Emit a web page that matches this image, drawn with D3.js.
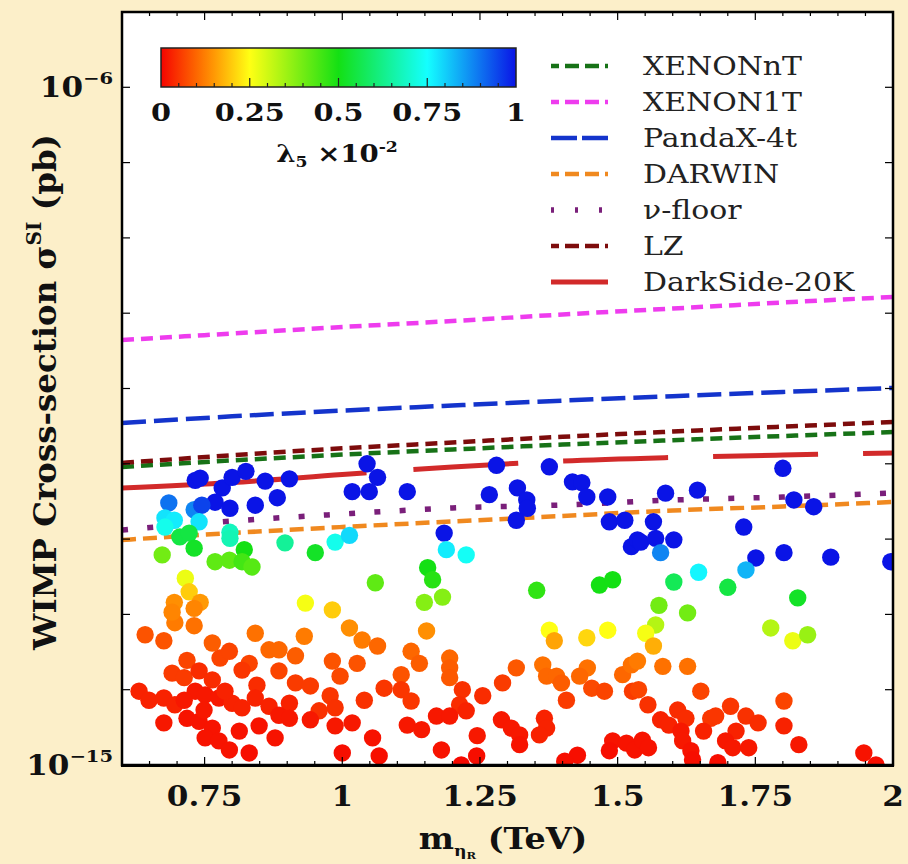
<!DOCTYPE html>
<html><head><meta charset="utf-8">
<script src="https://cdn.jsdelivr.net/npm/d3@7"></script>
<style>
html,body{margin:0;padding:0;background:#fcefc9;}
svg{display:block;}
</style></head><body>
<svg id="chart" width="908" height="864"></svg>
<script>
// ---------------- DATA ----------------
const massGrid = [0.6, 0.8, 1.0, 1.2, 1.4, 1.6, 1.8, 2.0];           // TeV
// log10 of sigma (pb) on massGrid
const xenonNT   = [-11.042,-10.955,-10.878,-10.810,-10.745,-10.686,-10.631,-10.578];
const xenon1T   = [-9.356,-9.270,-9.183,-9.104,-9.017,-8.938,-8.858,-8.785];
const pandaX4t  = [-10.458,-10.370,-10.293,-10.226,-10.161,-10.102,-10.046,-9.993];
const darwin    = [-12.012,-11.919,-11.839,-11.766,-11.693,-11.620,-11.567,-11.507];
const nuFloor   = [-11.879,-11.760,-11.667,-11.587,-11.547,-11.481,-11.441,-11.388];
const lz        = [-10.989,-10.886,-10.795,-10.717,-10.641,-10.572,-10.507,-10.445];
const darkSide  = [-11.321,-11.248,-11.142,-11.042,-10.963,-10.916,-10.883,-10.856];
const legendNames = ["XENONnT","XENON1T","PandaX-4t","DARWIN","\u03bd-floor","LZ","DarkSide-20K"];

// scatter points: [mass (TeV), log10 sigma (pb), lambda5 (x1e-2)]
const pointsUpperLeft = [
[0.733,-11.22,1],[0.742,-11.19,1],[0.782,-11.32,1],[0.800,-11.18,1],[0.825,-11.10,1],[0.860,-11.23,1],
[0.904,-11.20,1],[1.045,-11.00,1],[1.064,-11.18,1],[1.018,-11.37,1],[1.049,-11.37,1],[0.769,-11.51,1],
[0.796,-11.59,1],[0.842,-11.55,1],[0.882,-11.45,1],[0.685,-11.52,0.9],[0.731,-11.61,0.88],[0.745,-11.55,0.95],
[0.678,-11.72,0.78],[0.695,-11.75,0.77],[0.678,-11.84,0.73],[0.740,-11.77,0.78],[0.796,-11.91,0.68],
[0.796,-11.99,0.67],[0.896,-12.05,0.64],[0.987,-12.04,0.73],[1.013,-11.95,0.79],[0.705,-11.97,0.55],
[0.722,-11.92,0.55],[0.731,-12.12,0.52],[0.673,-12.21,0.40],[0.769,-12.30,0.42],[0.795,-12.28,0.42],
[0.822,-12.14,0.50],[0.818,-12.30,0.45],[0.836,-12.37,0.43],[0.951,-12.18,0.52],[1.060,-12.58,0.42],
[0.715,-12.52,0.27],[0.722,-12.70,0.20],[0.695,-12.84,0.14],[0.742,-12.84,0.15],[0.731,-12.92,0.13],
[0.691,-12.97,0.13],[0.933,-12.85,0.26],[0.982,-12.94,0.20]
];
const pointsUpperMid = [
[1.118,-11.37,1],[1.280,-11.02,1],[1.376,-11.04,1],[1.267,-11.41,1],[1.318,-11.32,1],[1.335,-11.48,1],
[1.336,-11.59,1],[1.316,-11.75,1],[1.418,-11.24,1],[1.435,-11.25,1],[1.444,-11.44,1],[1.482,-11.44,1],
[1.485,-11.77,1],[1.513,-11.75,1],[1.525,-12.10,1],[1.536,-12.01,1],[1.185,-11.92,1],[1.189,-12.14,0.77],
[1.225,-12.21,0.74],[1.155,-12.38,0.50],[1.164,-12.54,0.48],[1.149,-12.84,0.38],[1.182,-12.77,0.38],
[1.353,-12.68,0.47],[1.467,-12.61,0.50],[1.491,-12.54,0.50]
];
const pointsUpperRight = [
[1.800,-11.06,1],[1.587,-11.39,1],[1.645,-11.35,1],[1.820,-11.48,1],[1.856,-11.57,1],[1.565,-11.77,1],
[1.542,-12.04,1],[1.569,-11.99,1],[1.602,-12.01,1],[1.578,-12.18,0.88],[1.729,-11.84,1],[1.751,-12.25,1],
[1.802,-12.18,1],[1.887,-12.24,1],[1.996,-12.30,1],[1.647,-12.44,0.76],[1.733,-12.41,0.83],
[1.602,-12.57,0.57],[1.700,-12.64,0.55],[1.827,-12.78,0.52],[1.575,-12.88,0.40],[1.627,-12.98,0.40]
];
const pointsLowerLeft = [
[0.696,-13.11,0.12],[0.731,-13.15,0.11],[0.642,-13.27,0.08],[0.676,-13.35,0.08],[0.764,-13.38,0.09],
[0.842,-13.25,0.11],[0.931,-13.29,0.12],[1.013,-13.18,0.14],[1.036,-13.34,0.12],[1.064,-13.42,0.10],
[0.867,-13.47,0.10],[0.885,-13.47,0.10],[0.915,-13.55,0.09],[0.718,-13.61,0.065],[0.778,-13.58,0.065],
[0.795,-13.49,0.065],[0.831,-13.65,0.065],[0.818,-13.74,0.05],[0.885,-13.75,0.065],[0.982,-13.62,0.08],
[1.027,-13.65,0.08],[0.996,-13.82,0.07],[0.691,-13.78,0.055],[0.713,-13.84,0.055],[0.740,-13.75,0.04],
[0.764,-13.87,0.04],[0.915,-13.91,0.055],[0.942,-13.95,0.055],[0.845,-13.94,0.04],[0.631,-14.02,0.03],
[0.649,-14.14,0.03],[0.676,-14.11,0.03],[0.696,-14.20,0.03],[0.733,-14.02,0.02],[0.751,-14.07,0.02],
[0.776,-14.11,0.02],[0.800,-14.18,0.03],[0.818,-14.24,0.03],[0.842,-14.11,0.03],[0.867,-14.22,0.03],
[0.904,-14.18,0.03],[0.885,-14.34,0.02],[0.978,-14.08,0.05],[1.040,-14.14,0.045],[0.987,-14.24,0.045],
[0.958,-14.28,0.045],[0.942,-14.40,0.02],[0.676,-14.44,0.02],[0.718,-14.38,0.015],[0.740,-14.42,0.015],
[0.764,-14.51,0.015],[0.751,-14.64,0.015],[0.776,-14.68,0.015],[0.795,-14.80,0.015],[0.813,-14.55,0.015],
[0.849,-14.48,0.015],[0.878,-14.64,0.015],[0.904,-14.38,0.02],[0.987,-14.48,0.02],[1.018,-14.44,0.02],
[1.055,-14.64,0.015],[0.831,-14.84,0.01],[1.000,-14.84,0.01],[1.067,-14.88,0.01],[0.749,-14.27,0.02],
[0.787,-14.02,0.03],[0.713,-14.14,0.02]
];
const pointsLowerMid = [
[1.153,-13.22,0.14],[1.125,-13.49,0.10],[1.140,-13.65,0.09],[1.195,-13.58,0.10],[1.195,-13.71,0.09],
[1.195,-13.84,0.085],[1.107,-13.80,0.08],[1.076,-13.98,0.05],[1.107,-14.00,0.05],[1.125,-14.15,0.05],
[1.218,-14.00,0.045],[1.213,-14.20,0.04],[1.225,-14.28,0.03],[1.255,-14.08,0.04],[1.171,-14.35,0.02],
[1.195,-14.35,0.02],[1.118,-14.47,0.02],[1.144,-14.53,0.02],[1.180,-14.80,0.015],[1.245,-14.61,0.02],
[1.244,-14.88,0.01],[1.216,-15.00,0.005],[1.291,-13.91,0.055],[1.316,-13.71,0.085],[1.289,-14.40,0.02],
[1.307,-14.51,0.02],[1.322,-14.60,0.02],[1.322,-14.73,0.015],[1.367,-14.38,0.03],[1.371,-14.51,0.03],
[1.358,-14.60,0.03],[1.376,-13.21,0.25],[1.385,-13.35,0.16],[1.364,-13.67,0.11],[1.371,-13.82,0.10],
[1.389,-13.82,0.10],[1.398,-13.91,0.09],[1.407,-14.14,0.055],[1.444,-13.31,0.21],[1.482,-13.21,0.25],
[1.445,-13.71,0.11],[1.431,-13.82,0.10],[1.453,-13.98,0.07],[1.476,-14.02,0.065],[1.509,-13.80,0.10],
[1.525,-13.67,0.11],[1.527,-14.02,0.055],[1.427,-14.87,0.01],[1.404,-14.95,0.01],[1.491,-14.68,0.015],
[1.516,-14.71,0.015],[1.531,-14.80,0.015],[1.485,-14.81,0.01]
];
const pointsLowerRight = [
[1.569,-13.14,0.33],[1.551,-13.25,0.26],[1.565,-13.42,0.17],[1.536,-13.62,0.12],[1.582,-13.69,0.11],
[1.627,-13.69,0.11],[1.778,-13.18,0.33],[1.818,-13.35,0.27],[1.845,-13.27,0.36],[1.538,-14.00,0.065],
[1.555,-14.20,0.045],[1.651,-14.02,0.065],[1.609,-14.27,0.04],[1.624,-14.38,0.04],[1.578,-14.40,0.03],
[1.593,-14.47,0.03],[1.615,-14.55,0.02],[1.618,-14.68,0.02],[1.633,-14.81,0.015],[1.636,-14.93,0.01],
[1.545,-14.67,0.015],[1.556,-14.77,0.015],[1.669,-14.38,0.05],[1.678,-14.35,0.05],[1.656,-14.55,0.03],
[1.705,-14.22,0.05],[1.733,-14.35,0.045],[1.755,-14.44,0.04],[1.715,-14.55,0.03],[1.696,-14.68,0.02],
[1.709,-14.77,0.02],[1.738,-14.77,0.02],[1.682,-14.97,0.01],[1.802,-14.15,0.065],[1.802,-14.48,0.03],
[1.829,-14.73,0.02],[1.947,-14.84,0.015],[1.969,-15.00,0.01]
];
const xTickValues = [0.75, 1, 1.25, 1.5, 1.75, 2];
const xTickLabels = ["0.75", "1", "1.25", "1.5", "1.75", "2"];
const yLabelExponents = [-6, -15];
const cbTickValues = [0, 0.25, 0.5, 0.75, 1];
const cbTickLabels = ["0", "0.25", "0.5", "0.75", "1"];

// ---------------- CHART ----------------
const svg = d3.select("#chart");
const L = 122, R = 893, T = 12, B = 765;
const SX = 1.15; // horizontal text stretch
const x = d3.scaleLinear().domain([0.6, 2.0]).range([L, R]);
const y = d3.scaleLog().domain([1e-15, 1e-5]).range([B, T]);
const color = d3.scaleLinear()
  .domain([0, 0.125, 0.25, 0.5, 0.75, 1])
  .range(["#f60400", "#ff8000", "#ffff14", "#14e014", "#14ffff", "#0a14e6"]);

const serif = "'DejaVu Serif', serif";
function txt(px, py, size, bold, anchor) {
  return svg.append("text")
    .attr("transform", `translate(${px},${py}) scale(${SX},1)`)
    .attr("text-anchor", anchor || "start")
    .attr("font-family", serif).attr("font-weight", bold ? "bold" : "normal")
    .attr("font-size", size).attr("fill", "#111");
}

svg.append("rect").attr("width", 908).attr("height", 864).attr("fill", "#fcefc9");
svg.append("rect").attr("x", L).attr("y", T).attr("width", R - L).attr("height", B - T).attr("fill", "#ffffff");

const defs = svg.append("defs");
defs.append("clipPath").attr("id", "plotclip")
  .append("rect").attr("x", L).attr("y", T).attr("width", R - L).attr("height", B - T);

const plot = svg.append("g").attr("clip-path", "url(#plotclip)");

const series = [
  {name: legendNames[0], data: xenonNT,  color: "#177217", dash: "12,7",  w: 4.5},
  {name: legendNames[1], data: xenon1T,  color: "#ee3cee", dash: "12,7",  w: 4.5},
  {name: legendNames[2], data: pandaX4t, color: "#1434cc", dash: "24,8",  w: 4.5},
  {name: legendNames[3], data: darwin,   color: "#f0891f", dash: "14,7",  w: 4.5},
  {name: legendNames[4], data: nuFloor,  color: "#7a1f7a", dash: "6,19.3", w: 5.5},
  {name: legendNames[5], data: lz,       color: "#7d0c0c", dash: "12,7",  w: 4.5},
  {name: legendNames[6], data: darkSide, color: "#d22a2a", dash: "245,47,105,45,105,45,105,45,105,45", w: 5}
];

const line = d3.line()
  .x((d, i) => x(massGrid[i]))
  .y(d => y(Math.pow(10, d)))
  .curve(d3.curveMonotoneX);

[6, 3, 4, 1, 2, 0, 5].forEach(k => {
  const s = series[k];
  plot.append("path").attr("d", line(s.data)).attr("fill", "none")
    .attr("stroke", s.color).attr("stroke-width", s.w).attr("stroke-dasharray", s.dash);
});

const points = [].concat(pointsLowerLeft, pointsLowerMid, pointsLowerRight,
                         pointsUpperLeft, pointsUpperMid, pointsUpperRight);
plot.selectAll("circle.pt").data(points).enter().append("circle")
  .attr("class", "pt")
  .attr("cx", d => x(d[0]))
  .attr("cy", d => y(Math.pow(10, d[1])))
  .attr("r", 8.7)
  .attr("fill", d => color(d[2]));

// frame
svg.append("rect").attr("x", L).attr("y", T).attr("width", R - L).attr("height", B - T)
  .attr("fill", "none").attr("stroke", "#000").attr("stroke-width", 2.5);
svg.append("line").attr("x1", L - 1).attr("x2", R + 1).attr("y1", B + 0.5).attr("y2", B + 0.5)
  .attr("stroke", "#000").attr("stroke-width", 3);

// ticks
const ticksG = svg.append("g").attr("stroke", "#000");
d3.range(0.65, 2.0, 0.05).map(v => +v.toFixed(2)).forEach(v => {
  const isMajor = Math.abs(v * 4 - Math.round(v * 4)) < 1e-6;
  const len = isMajor ? 8 : 4;
  ticksG.append("line").attr("x1", x(v)).attr("x2", x(v)).attr("y1", B).attr("y2", B - len).attr("stroke-width", 1.2);
  ticksG.append("line").attr("x1", x(v)).attr("x2", x(v)).attr("y1", T).attr("y2", T + len).attr("stroke-width", 1.2);
});
d3.range(-14, -5).forEach(e => {
  const yy = y(Math.pow(10, e));
  ticksG.append("line").attr("x1", L).attr("x2", L + 8).attr("y1", yy).attr("y2", yy).attr("stroke-width", 1.2);
  ticksG.append("line").attr("x1", R).attr("x2", R - 8).attr("y1", yy).attr("y2", yy).attr("stroke-width", 1.2);
});

// x tick labels
xTickValues.forEach((v, i) => {
  txt(x(v), 806, 27, true, "middle").text(xTickLabels[i]);
});
// y tick labels
yLabelExponents.forEach(e => {
  const t = txt(113, y(Math.pow(10, e)) + 10, 27, true, "end");
  t.append("tspan").text("10");
  t.append("tspan").attr("font-size", 17).attr("dy", -13).text("\u2212" + Math.abs(e));
});

// axis titles
const xt = txt(503, 849, 29, true, "middle");
xt.append("tspan").text("m");
xt.append("tspan").attr("font-size", 15).attr("dy", 7).text("\u03b7");
xt.append("tspan").attr("font-size", 10).attr("dy", 3).text("R");
xt.append("tspan").attr("dy", -10).text(" (TeV)");

const yt = svg.append("text").attr("transform", "translate(56,392) rotate(-90) scale(1.12,1.12)")
  .attr("text-anchor", "middle")
  .attr("font-family", serif).attr("font-weight", "bold").attr("font-size", 29).attr("fill", "#111");
yt.append("tspan").text("WIMP Cross-section \u03c3");
yt.append("tspan").attr("font-size", 18).attr("dy", -13).text("SI");
yt.append("tspan").attr("dy", 13).text(" (pb)");

// colorbar
const cbL = 161, cbR = 516, cbT = 48, cbB = 87;
const cb = d3.scaleLinear().domain([0, 1]).range([cbL, cbR]);
const grad = defs.append("linearGradient").attr("id", "cbgrad")
  .attr("x1", "0%").attr("x2", "100%").attr("y1", "0%").attr("y2", "0%");
d3.range(0, 1.0001, 0.05).forEach(v => {
  grad.append("stop").attr("offset", (v * 100) + "%").attr("stop-color", color(v));
});
svg.append("rect").attr("x", cbL).attr("y", cbT).attr("width", cbR - cbL).attr("height", cbB - cbT)
  .attr("fill", "url(#cbgrad)").attr("stroke", "#222").attr("stroke-width", 1.5);
d3.range(0.05, 1, 0.05).forEach(v => {
  const isMajor = Math.abs(v * 4 - Math.round(v * 4)) < 1e-6;
  svg.append("line").attr("x1", cb(v)).attr("x2", cb(v)).attr("y1", cbB).attr("y2", cbB - (isMajor ? 9 : 4))
    .attr("stroke", "#222").attr("stroke-width", 1.2);
});
cbTickValues.forEach((v, i) => {
  txt(cb(v), 121, 25, true, "middle").text(cbTickLabels[i]);
});
const cbt = txt(337, 162, 24, true, "middle");
cbt.append("tspan").text("\u03bb");
cbt.append("tspan").attr("font-size", 15).attr("dy", 5).text("5");
cbt.append("tspan").attr("dy", -5).text(" \u00d710");
cbt.append("tspan").attr("font-size", 15).attr("dy", -10).text("-2");

// legend
series.forEach((s, i) => {
  const cy = 66 + i * 36;
  svg.append("line").attr("x1", 551).attr("x2", 608).attr("y1", cy).attr("y2", cy)
    .attr("stroke", s.color).attr("stroke-width", s.w)
    .attr("stroke-dasharray", i === 6 ? null : (i === 4 ? "3,21" : (i === 2 ? "26,5" : "8,6,14,6,14,6")));
  txt(643, cy + 9, 26, false, "start").attr("fill", "#222").text(s.name);
});
</script>
</body></html>
